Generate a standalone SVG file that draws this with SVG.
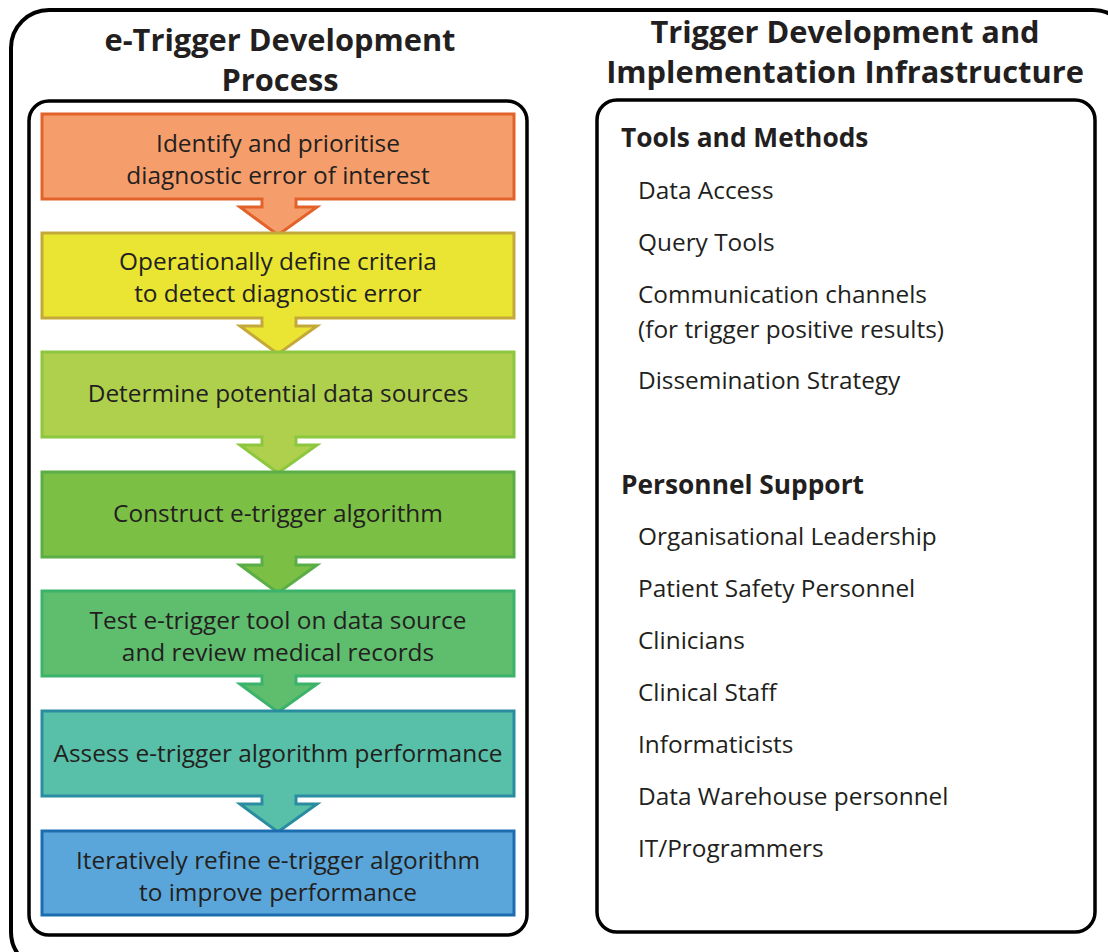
<svg xmlns="http://www.w3.org/2000/svg" width="1108" height="952" viewBox="0 0 1108 952">
<style>
text{font-family:"Open Sans","Noto Sans","Liberation Sans",sans-serif;fill:#231F20}
.t{font-size:30.8px;font-weight:bold;text-anchor:middle}
.h{font-size:26.3px;font-weight:bold}
.i{font-size:24.4px}
.b{font-size:24.4px;text-anchor:middle}
.frame{fill:#fff;stroke:#000;stroke-width:3.5}
.box{stroke-width:3}
</style>
<rect x="11" y="10" width="1120" height="960" rx="38" fill="#fff" stroke="#000" stroke-width="4"/>
<text class="t" x="280" y="51">e-Trigger Development</text>
<text class="t" x="280" y="91">Process</text>
<text class="t" x="845" y="43">Trigger Development and</text>
<text class="t" x="845" y="83">Implementation Infrastructure</text>
<rect class="frame" x="29" y="101" width="498" height="834" rx="20"/>
<rect class="frame" x="597" y="100" width="498" height="832" rx="20"/>

<g id="connectors">
<g id="a1"><polygon points="262,197 262,207 240,207 278,235 317,207 296,207 296,197" fill="#F69E6B"/><path d="M262,199V207H240L278,235L317,207H296V199" fill="none" stroke="#E2622A" stroke-width="3"/></g>
<g id="a2"><polygon points="262,316 262,326 240,326 278,354 317,326 296,326 296,316" fill="#E9E532"/><path d="M262,318V326H240L278,354L317,326H296V318" fill="none" stroke="#C4A93A" stroke-width="3"/></g>
<g id="a3"><polygon points="262,435 262,445 240,445 278,473 317,445 296,445 296,435" fill="#AFD04D"/><path d="M262,437V445H240L278,473L317,445H296V437" fill="none" stroke="#8DC63F" stroke-width="3"/></g>
<g id="a4"><polygon points="262,555 262,565 240,565 278,593 317,565 296,565 296,555" fill="#7BBF45"/><path d="M262,557V565H240L278,593L317,565H296V557" fill="none" stroke="#5BAE47" stroke-width="3"/></g>
<g id="a5"><polygon points="262,674 262,684 240,684 278,712 317,684 296,684 296,674" fill="#5FBD6E"/><path d="M262,676V684H240L278,712L317,684H296V676" fill="none" stroke="#3BB36A" stroke-width="3"/></g>
<g id="a6"><polygon points="262,794 262,804 240,804 278,832 317,804 296,804 296,794" fill="#58C0A8"/><path d="M262,796V804H240L278,832L317,804H296V796" fill="none" stroke="#2A8CA0" stroke-width="3"/></g>
</g>

<g id="n1"><rect class="box" x="42" y="114" width="472" height="85" fill="#F69E6B" stroke="#E2622A"/><rect x="263.5" y="196" width="31" height="6" fill="#F69E6B"/>
<text class="b" x="278" y="152">Identify and prioritise</text><text class="b" x="278" y="184">diagnostic error of interest</text></g>
<g id="n2"><rect class="box" x="42" y="233" width="472" height="85" fill="#E9E532" stroke="#C4A93A"/><rect x="263.5" y="315" width="31" height="6" fill="#E9E532"/>
<text class="b" x="278" y="270">Operationally define criteria</text><text class="b" x="278" y="302">to detect diagnostic error</text></g>
<g id="n3"><rect class="box" x="42" y="352" width="472" height="85" fill="#AFD04D" stroke="#8DC63F"/><rect x="263.5" y="434" width="31" height="6" fill="#AFD04D"/>
<text class="b" x="278" y="402">Determine potential data sources</text></g>
<g id="n4"><rect class="box" x="42" y="472" width="472" height="85" fill="#7BBF45" stroke="#5BAE47"/><rect x="263.5" y="554" width="31" height="6" fill="#7BBF45"/>
<text class="b" x="278" y="522">Construct e-trigger algorithm</text></g>
<g id="n5"><rect class="box" x="42" y="591" width="472" height="85" fill="#5FBD6E" stroke="#3BB36A"/><rect x="263.5" y="673" width="31" height="6" fill="#5FBD6E"/>
<text class="b" x="278" y="629">Test e-trigger tool on data source</text><text class="b" x="278" y="661">and review medical records</text></g>
<g id="n6"><rect class="box" x="42" y="711" width="472" height="85" fill="#58C0A8" stroke="#2A8CA0"/><rect x="263.5" y="793" width="31" height="6" fill="#58C0A8"/>
<text class="b" x="278" y="762">Assess e-trigger algorithm performance</text></g>
<g id="n7"><rect class="box" x="42" y="831" width="472" height="84" fill="#5AA6DA" stroke="#1C6DAF"/>
<text class="b" x="278" y="869">Iteratively refine e-trigger algorithm</text><text class="b" x="278" y="901">to improve performance</text></g>

<g id="infra">
<text class="h" x="621" y="147">Tools and Methods</text>
<text class="i" x="638" y="199">Data Access</text>
<text class="i" x="638" y="251">Query Tools</text>
<text class="i" x="638" y="303">Communication channels</text>
<text class="i" x="638" y="338">(for trigger positive results)</text>
<text class="i" x="638" y="389">Dissemination Strategy</text>
<text class="h" x="621" y="494">Personnel Support</text>
<text class="i" x="638" y="545">Organisational Leadership</text>
<text class="i" x="638" y="597">Patient Safety Personnel</text>
<text class="i" x="638" y="649">Clinicians</text>
<text class="i" x="638" y="701">Clinical Staff</text>
<text class="i" x="638" y="753">Informaticists</text>
<text class="i" x="638" y="805">Data Warehouse personnel</text>
<text class="i" x="638" y="857">IT/Programmers</text>
</g>
</svg>
